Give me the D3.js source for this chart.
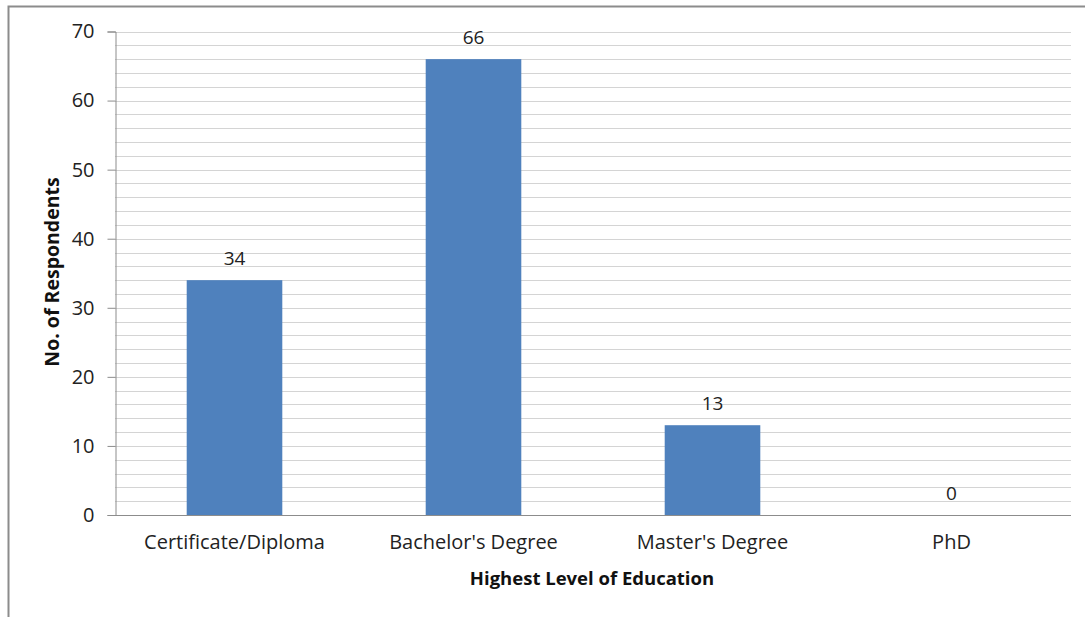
<!DOCTYPE html>
<html>
<head>
<meta charset="utf-8">
<script src="https://cdn.jsdelivr.net/npm/d3@7"></script>
<style>
  body { margin: 0; background: #fff; }
  svg { display: block; font-family: "Open Sans", sans-serif; }
</style>
</head>
<body>
<script>
// chart data
var categories = ["Certificate/Diploma", "Bachelor's Degree", "Master's Degree", "PhD"];
var respondents = [34, 66, 13, 0];
var yTicks = [0, 10, 20, 30, 40, 50, 60, 70];

var w = 1089, h = 617;
var m = {left: 115, right: 18, top: 31.5, bottom: 102};
var fnt = "\"Open Sans\", sans-serif";

var svg = d3.select("body").append("svg")
    .attr("width", w)
    .attr("height", h);

// outer frame (only top + left visible)
svg.append("path")
    .attr("d", "M8.5,617 L8.5,6.5 L1085,6.5")
    .attr("fill", "none")
    .attr("stroke", "#8c8c8c")
    .attr("stroke-width", 2);

var x = d3.scaleBand()
    .domain(categories)
    .range([m.left, w - m.right])
    .paddingInner(0.6)
    .paddingOuter(0.3);

var y = d3.scaleLinear()
    .domain([0, 70])
    .range([h - m.bottom, m.top]);

// minor gridlines every 2
var grid = d3.range(2, 71, 2);
svg.append("g")
  .selectAll("line")
  .data(grid)
  .enter()
  .append("line")
    .attr("x1", m.left)
    .attr("x2", w - m.right)
    .attr("y1", function(d) { return Math.round(y(d)) + 0.5; })
    .attr("y2", function(d) { return Math.round(y(d)) + 0.5; })
    .attr("stroke", "#d4d4d4")
    .attr("stroke-width", 1.2);

// bars
svg.selectAll("rect.bar")
    .data(respondents)
    .enter()
    .append("rect")
    .attr("class", "bar")
    .attr("x", function(d, i) { return x(categories[i]); })
    .attr("width", x.bandwidth())
    .attr("y", function(d) { return y(d); })
    .attr("height", function(d) { return y(0) - y(d); })
    .style("fill", "#4f81bd");

// value labels
svg.selectAll("text.val")
    .data(respondents)
    .enter()
    .append("text")
    .attr("class", "val")
    .text(function(d) { return d; })
    .attr("x", function(d, i) { return x(categories[i]) + x.bandwidth() / 2; })
    .attr("y", function(d) { return y(d) - 15; })
    .attr("text-anchor", "middle")
    .attr("font-size", "19px")
    .attr("fill", "#222");

// y axis
var yAxis = svg.append("g")
    .attr("transform", "translate(" + (m.left + 0.5) + ",0)")
    .call(d3.axisLeft(y).tickValues(yTicks).tickSize(8).tickPadding(13));
yAxis.select(".domain").attr("stroke", "#8c8c8c");
yAxis.selectAll(".tick line").attr("stroke", "#8c8c8c");
yAxis.selectAll(".tick text")
    .attr("font-size", "20px")
    .attr("font-family", fnt)
    .attr("fill", "#222");

// x axis
var xAxis = svg.append("g")
    .attr("transform", "translate(0," + (Math.round(y(0)) + 0.5) + ")")
    .call(d3.axisBottom(x).tickSize(0).tickPadding(19).tickSizeOuter(0));
xAxis.select(".domain")
    .attr("d", "M" + m.left + ",0H" + (w - m.right))
    .attr("stroke", "#8c8c8c");
xAxis.selectAll(".tick text")
    .attr("font-size", "20px")
    .attr("font-family", fnt)
    .attr("fill", "#222");

// axis titles
svg.append("text")
    .text("Highest Level of Education")
    .attr("x", 592)
    .attr("y", 585)
    .attr("text-anchor", "middle")
    .attr("font-size", "18.5px")
    .attr("font-weight", "bold")
    .attr("fill", "#111");

svg.append("text")
    .text("No. of Respondents")
    .attr("transform", "translate(59,272) rotate(-90)")
    .attr("text-anchor", "middle")
    .attr("font-size", "19.5px")
    .attr("font-weight", "bold")
    .attr("fill", "#111");
</script>
</body>
</html>
